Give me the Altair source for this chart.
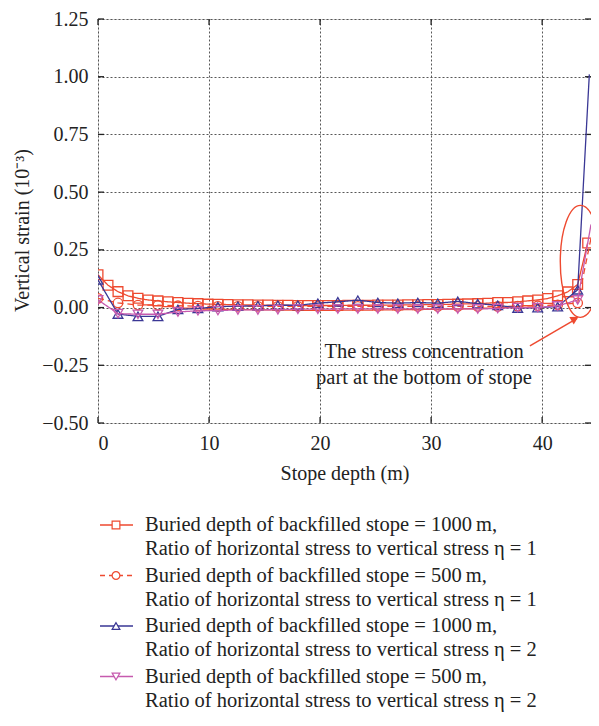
import altair as alt
import pandas as pd

# ---------------- data ----------------
depth_dense = [0.0, 0.9, 1.8, 2.7, 3.6, 4.5, 5.4, 6.3, 7.2, 8.1,
               9.0, 9.9, 10.8, 11.7, 12.6, 13.5, 14.4, 15.3, 16.2, 17.1,
               18.0, 18.9, 19.8, 20.7, 21.6, 22.5, 23.4, 24.3, 25.2, 26.1,
               27.0, 27.9, 28.8, 29.7, 30.6, 31.5, 32.4, 33.3, 34.2, 35.1,
               36.0, 36.9, 37.8, 38.7, 39.6, 40.5, 41.4, 42.3, 43.2, 44.1]
strain_1000_eta1 = [0.142, 0.097, 0.069, 0.051, 0.040, 0.033, 0.029, 0.025, 0.022, 0.019,
                    0.017, 0.015, 0.014, 0.013, 0.012, 0.012, 0.011, 0.011, 0.010, 0.010,
                    0.009, 0.009, 0.009, 0.009, 0.009, 0.010, 0.010, 0.010, 0.011, 0.011,
                    0.011, 0.012, 0.012, 0.013, 0.013, 0.014, 0.015, 0.016, 0.017, 0.019,
                    0.022, 0.022, 0.025, 0.029, 0.033, 0.039, 0.051, 0.068, 0.100, 0.280]

depth_sparse = [0.0, 1.8, 3.6, 5.4, 7.2, 9.0, 10.8, 12.6, 14.4, 16.2,
                18.0, 19.8, 21.6, 23.4, 25.2, 27.0, 28.8, 30.6, 32.4, 34.2,
                36.0, 37.8, 39.6, 41.4, 43.2]
strain_500_eta1 = [0.040, 0.020, 0.011, 0.010, 0.008, 0.006, 0.005, 0.005, 0.005, 0.005,
                   0.005, 0.005, 0.005, 0.005, 0.005, 0.005, 0.005, 0.005, 0.005, 0.005,
                   0.005, 0.006, 0.008, 0.012, 0.020]
strain_1000_eta2 = [0.120, -0.028, -0.038, -0.038, -0.008, -0.004, 0.004, 0.006, 0.008, 0.010,
                    0.010, 0.019, 0.025, 0.032, 0.022, 0.019, 0.022, 0.019, 0.027, 0.017,
                    0.010, -0.002, 0.000, 0.004, 0.077]
strain_500_eta2 = [0.033, -0.026, -0.029, -0.029, -0.019, -0.014, -0.013, -0.010, -0.010, -0.009,
                   -0.007, -0.007, -0.006, -0.006, -0.006, -0.006, -0.006, -0.006, -0.006, -0.006,
                   -0.004, 0.000, 0.000, 0.007, 0.033]
# end points of the steep rise at the bottom of the stope (line only)
end_depth_1000_eta2 = 44.25
end_strain_1000_eta2 = 1.01
end_depth_500 = 44.4
end_strain_500_eta1 = 0.30
end_strain_500_eta2 = 0.36

legend_line1 = ["Buried depth of backfilled stope = 1000\u2009m,",
                "Buried depth of backfilled stope = 500\u2009m,",
                "Buried depth of backfilled stope = 1000\u2009m,",
                "Buried depth of backfilled stope = 500\u2009m,"]
legend_line2 = ["Ratio of horizontal stress to vertical stress \u03b7 = 1",
                "Ratio of horizontal stress to vertical stress \u03b7 = 1",
                "Ratio of horizontal stress to vertical stress \u03b7 = 2",
                "Ratio of horizontal stress to vertical stress \u03b7 = 2"]

x_ticks = [0, 10, 20, 30, 40]
y_ticks = [-0.5, -0.25, 0.0, 0.25, 0.5, 0.75, 1.0, 1.25]

annot_lines = ["The stress concentration", "part at the bottom of stope"]
ellipse_center = (43.45, 0.20)
arrow_from = (38.9, -0.166)
arrow_to = (43.15, -0.047)

# ---------------- styling ----------------
RED = "#EE4A30"
BLUE = "#3A3795"
MAG = "#C65AAE"
FONT = "'Liberation Serif', 'Times New Roman', serif"
W, H = 493, 404
XD = [0, 44.4]
YD = [-0.5, 1.25]

xs = alt.Scale(domain=XD, nice=False, zero=False)
ys = alt.Scale(domain=YD, nice=False, zero=False)

x_axis = alt.Axis(
    values=x_ticks, title="Stope depth (m)", grid=True, ticks=False, domain=False,
    gridDash=[2, 2], gridColor="#444", gridWidth=0.9,
    labelFont=FONT, labelFontSize=20, labelColor="#222", labelPadding=10,
    titleFont=FONT, titleFontSize=20, titleFontWeight="normal", titleColor="#222",
    titleY=50, titleBaseline="middle")
y_axis = alt.Axis(
    values=y_ticks, title="Vertical strain (10\u207b\u00b3)", grid=True, ticks=False, domain=False,
    gridDash=[2, 2], gridColor="#444", gridWidth=0.9,
    labelExpr="replace(format(datum.value, '.2f'), '-', '\u2212')",
    labelFont=FONT, labelFontSize=20, labelColor="#222", labelPadding=10,
    titleFont=FONT, titleFontSize=20, titleFontWeight="normal", titleColor="#222",
    titleX=-76, titleY=211, titleBaseline="middle", titleAngle=-90)

def X(f):
    return alt.X(f, scale=xs, axis=x_axis)

def Y(f):
    return alt.Y(f, scale=ys, axis=y_axis)

series = [
    (depth_dense, strain_1000_eta1, None, None, RED, "square", False),
    (depth_sparse, strain_500_eta1, end_depth_500, end_strain_500_eta1, RED, "circle", True),
    (depth_sparse, strain_1000_eta2, end_depth_1000_eta2, end_strain_1000_eta2, BLUE, "triangle-up", False),
    (depth_sparse, strain_500_eta2, end_depth_500, end_strain_500_eta2, MAG, "triangle-down", False),
]

layers = []

# inward ticks
ytk = pd.DataFrame({"d": [0.0] * len(y_ticks), "s": y_ticks})
xtk = pd.DataFrame({"d": x_ticks, "s": [0.0] * len(x_ticks)})
for a, b in [(0, 6), (W - 6, W)]:
    layers.append(alt.Chart(ytk).mark_rule(color="#222", strokeWidth=1.3).encode(
        y=Y("s:Q"), x=alt.value(a), x2=alt.value(b)))
for a, b in [(H - 6, H), (0, 6)]:
    layers.append(alt.Chart(xtk).mark_rule(color="#222", strokeWidth=1.3).encode(
        x=X("d:Q"), y=alt.value(a), y2=alt.value(b)))

for dep, val, ed, ev, col, shp, dashed in series:
    pts = pd.DataFrame({"d": dep, "s": val})
    line_df = pts.copy()
    if ed is not None:
        line_df = pd.concat([line_df, pd.DataFrame({"d": [ed], "s": [ev]})], ignore_index=True)
    layers.append(alt.Chart(line_df).mark_line(
        color=col, strokeWidth=1.3, strokeDash=[6, 4] if dashed else [1, 0], clip=True).encode(
        x=X("d:Q"), y=Y("s:Q"), order="d:Q"))
    layers.append(alt.Chart(pts).mark_point(
        shape=shp, filled=False, color=col, size=95 if shp != "circle" else 90,
        strokeWidth=1.3, opacity=1, clip=True).encode(x=X("d:Q"), y=Y("s:Q")))

# ellipse around stress concentration
ell = pd.DataFrame({"d": [ellipse_center[0]], "s": [ellipse_center[1]]})
layers.append(alt.Chart(ell).mark_point(
    shape="M-0.36,0A0.36,1,0,1,0,0.36,0A0.36,1,0,1,0,-0.36,0Z", size=12544,
    filled=False, color=RED, strokeWidth=1.4, opacity=1).encode(x=X("d:Q"), y=Y("s:Q")))

# arrow
arr = pd.DataFrame({"d": [arrow_from[0]], "s": [arrow_from[1]], "d2": [arrow_to[0]], "s2": [arrow_to[1]]})
layers.append(alt.Chart(arr).mark_rule(color=RED, strokeWidth=1.5).encode(
    x=X("d:Q"), y=Y("s:Q"), x2="d2:Q", y2="s2:Q"))
head = pd.DataFrame({"d": [arrow_to[0] + 0.12], "s": [arrow_to[1] + 0.007]})
layers.append(alt.Chart(head).mark_point(
    shape="M0,0L-0.55,1L0.55,1Z", size=256, filled=True, color=RED, angle=60, opacity=1).encode(
    x=X("d:Q"), y=Y("s:Q")))

# annotation text
for i, t in enumerate(annot_lines):
    layers.append(alt.Chart(pd.DataFrame({"t": [t]})).mark_text(
        font=FONT, fontSize=20.5, color="#222", align="center", baseline="alphabetic").encode(
        text="t:N", x=alt.value(326), y=alt.value(339 + 26 * i)))

# custom legend
for k in range(4):
    col, shp, dashed = series[k][4], series[k][5], series[k][6]
    base_y = 512 + 50.5 * k
    sym_y = base_y - 6
    layers.append(alt.Chart(pd.DataFrame({"a": [0]})).mark_rule(
        color=col, strokeWidth=1.3, strokeDash=[5, 4] if dashed else [1, 0]).encode(
        x=alt.value(2), x2=alt.value(35), y=alt.value(sym_y)))
    layers.append(alt.Chart(pd.DataFrame({"a": [0]})).mark_point(
        shape=shp, filled=True, fill="white", stroke=col, size=60, strokeWidth=1.2, opacity=1).encode(
        x=alt.value(18), y=alt.value(sym_y)))
    layers.append(alt.Chart(pd.DataFrame({"t": [legend_line1[k]]})).mark_text(
        font=FONT, fontSize=20.5, color="#222", align="left", baseline="alphabetic").encode(
        text="t:N", x=alt.value(47), y=alt.value(base_y)))
    layers.append(alt.Chart(pd.DataFrame({"t": [legend_line2[k]]})).mark_text(
        font=FONT, fontSize=20.5, color="#222", align="left", baseline="alphabetic").encode(
        text="t:N", x=alt.value(47), y=alt.value(base_y + 24)))

chart = alt.layer(*layers).properties(
    width=W, height=H,
    autosize=alt.AutoSizeParams(type="none"),
    padding={"left": 90, "top": 11, "right": 0, "bottom": 289},
).configure_view(stroke="#222", strokeWidth=1.3).configure(background="white")

chart.save("out.html", embed_options={"renderer": "svg", "actions": False})
